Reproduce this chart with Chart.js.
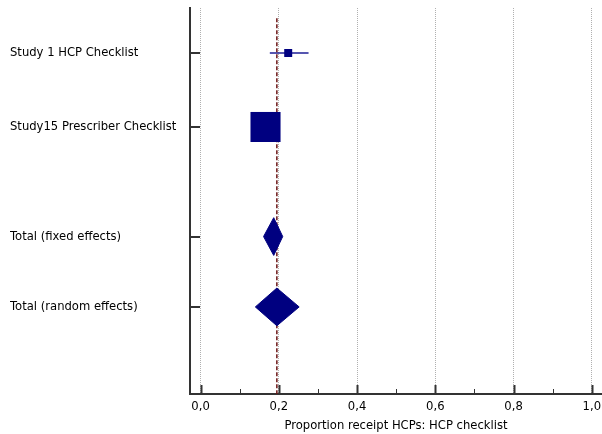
<!DOCTYPE html>
<html>
<head>
<meta charset="utf-8">
<script src="https://cdn.jsdelivr.net/npm/chart.js@4.4.0/dist/chart.umd.min.js"></script>
<style>
  html, body { margin: 0; padding: 0; background: #fff; }
</style>
</head>
<body>
<canvas id="myChart" width="602" height="434"></canvas>
<script>
"use strict";

// study rows (top to bottom) and their place on the y axis
const studyLabels = ['Study 1 HCP Checklist', 'Study15 Prescriber Checklist', 'Total (fixed effects)', 'Total (random effects)'];
const rowPos = [1, 2.02, 3.53, 4.5];
const isTotal = [false, false, true, true];

// proportion with 95% CI, and weight (%) of each study
const estimates = [0.224, 0.166, 0.187, 0.195];
const lower = [0.177, 0.135, 0.161, 0.140];
const upper = [0.276, 0.200, 0.210, 0.252];
const weights = [6.6, 93.4, null, null];

const xTicks = [0, 0.2, 0.4, 0.6, 0.8, 1.0];
const xMinorTicks = [0.1, 0.3, 0.5, 0.7, 0.9];
const xTitle = 'Proportion receipt HCPs: HCP checklist';

const navy = '#000080';
Chart.defaults.font.family = 'DejaVu Sans';
Chart.defaults.font.size = 11.6;
Chart.defaults.color = '#000';

const datasets = [];

// confidence interval lines for single studies
rowPos.forEach((r, i) => {
    if (isTotal[i]) return;
    datasets.push({
        data: [{x: lower[i], y: r}, {x: upper[i], y: r}],
        showLine: true,
        borderColor: 'rgba(30,30,150,0.75)',
        borderWidth: 2,
        pointRadius: 0,
        order: 3
    });
});

// pooled (random effects) reference line
datasets.push({
    data: [{x: estimates[3], y: 0.52}, {x: estimates[3], y: 5.7}],
    showLine: true,
    borderColor: '#6b1414',
    borderDash: [4, 2],
    borderWidth: 1.5,
    pointRadius: 0,
    order: 2
});

// weighted squares
datasets.push({
    data: rowPos.map((r, i) => ({x: estimates[i], y: r})).filter((d, i) => !isTotal[i]),
    pointStyle: 'rect',
    pointRadius: weights.filter(w => w !== null).map(w => 22 * Math.sqrt(w / 100)),
    backgroundColor: navy,
    borderWidth: 0,
    order: 1
});

// diamonds for totals
const dh = 0.26;
rowPos.forEach((r, i) => {
    if (!isTotal[i]) return;
    datasets.push({
        data: [
            {x: lower[i], y: r},
            {x: estimates[i], y: r - dh},
            {x: upper[i], y: r},
            {x: estimates[i], y: r + dh},
            {x: lower[i], y: r}
        ],
        showLine: true,
        fill: 'shape',
        backgroundColor: navy,
        borderColor: navy,
        borderWidth: 1,
        pointRadius: 0,
        order: 0
    });
});

// tick marks drawn on the inner side of both axes
const innerTicks = {
    id: 'innerTicks',
    afterDatasetsDraw(chart) {
        const {ctx, chartArea, scales: {x, y}} = chart;
        ctx.save();
        ctx.strokeStyle = '#333';
        ctx.lineWidth = 2;
        rowPos.forEach(r => {
            const py = Math.round(y.getPixelForValue(r));
            ctx.beginPath();
            ctx.moveTo(chartArea.left, py);
            ctx.lineTo(chartArea.left + 10, py);
            ctx.stroke();
        });
        xTicks.forEach(v => {
            const px = Math.round(x.getPixelForValue(v)) + 0.5;
            ctx.beginPath();
            ctx.moveTo(px, chartArea.bottom);
            ctx.lineTo(px, chartArea.bottom - 9);
            ctx.stroke();
        });
        ctx.lineWidth = 1;
        xMinorTicks.forEach(v => {
            const px = Math.round(x.getPixelForValue(v)) + 0.5;
            ctx.beginPath();
            ctx.moveTo(px, chartArea.bottom);
            ctx.lineTo(px, chartArea.bottom - 5);
            ctx.stroke();
        });
        ctx.restore();
    }
};

const ctx = document.getElementById('myChart');
const myChart = new Chart(ctx, {
    type: 'scatter',
    data: {datasets: datasets},
    plugins: [innerTicks],
    options: {
        responsive: false,
        animation: false,
        layout: {autoPadding: false, padding: {left: 10, top: 8, right: 0, bottom: 0}},
        plugins: {legend: {display: false}, tooltip: {enabled: false}},
        scales: {
            x: {
                type: 'linear',
                min: -0.027,
                max: 1.026,
                afterBuildTicks: s => { s.ticks = xTicks.map(v => ({value: v})); },
                afterFit: s => { s.height = 40; s.paddingLeft = 0; s.paddingRight = 0; },
                ticks: {
                    padding: 6,
                    callback: v => v.toFixed(1).replace('.', ',')
                },
                grid: {color: '#b0b0b0', lineWidth: 1, drawTicks: false},
                border: {color: '#333', width: 2, dash: [1, 1]},
                title: {display: true, text: xTitle, padding: {top: 2, bottom: 1}}
            },
            y: {
                type: 'linear',
                reverse: true,
                min: 0.38,
                max: 5.7,
                afterBuildTicks: s => { s.ticks = rowPos.map(v => ({value: v})); },
                afterFit: s => { s.width = 180; s.paddingTop = 0; s.paddingBottom = 0; },
                ticks: {
                    crossAlign: 'far',
                    callback: v => studyLabels[rowPos.indexOf(v)]
                },
                grid: {display: false},
                border: {color: '#333', width: 2}
            }
        }
    }
});
</script>
</body>
</html>
